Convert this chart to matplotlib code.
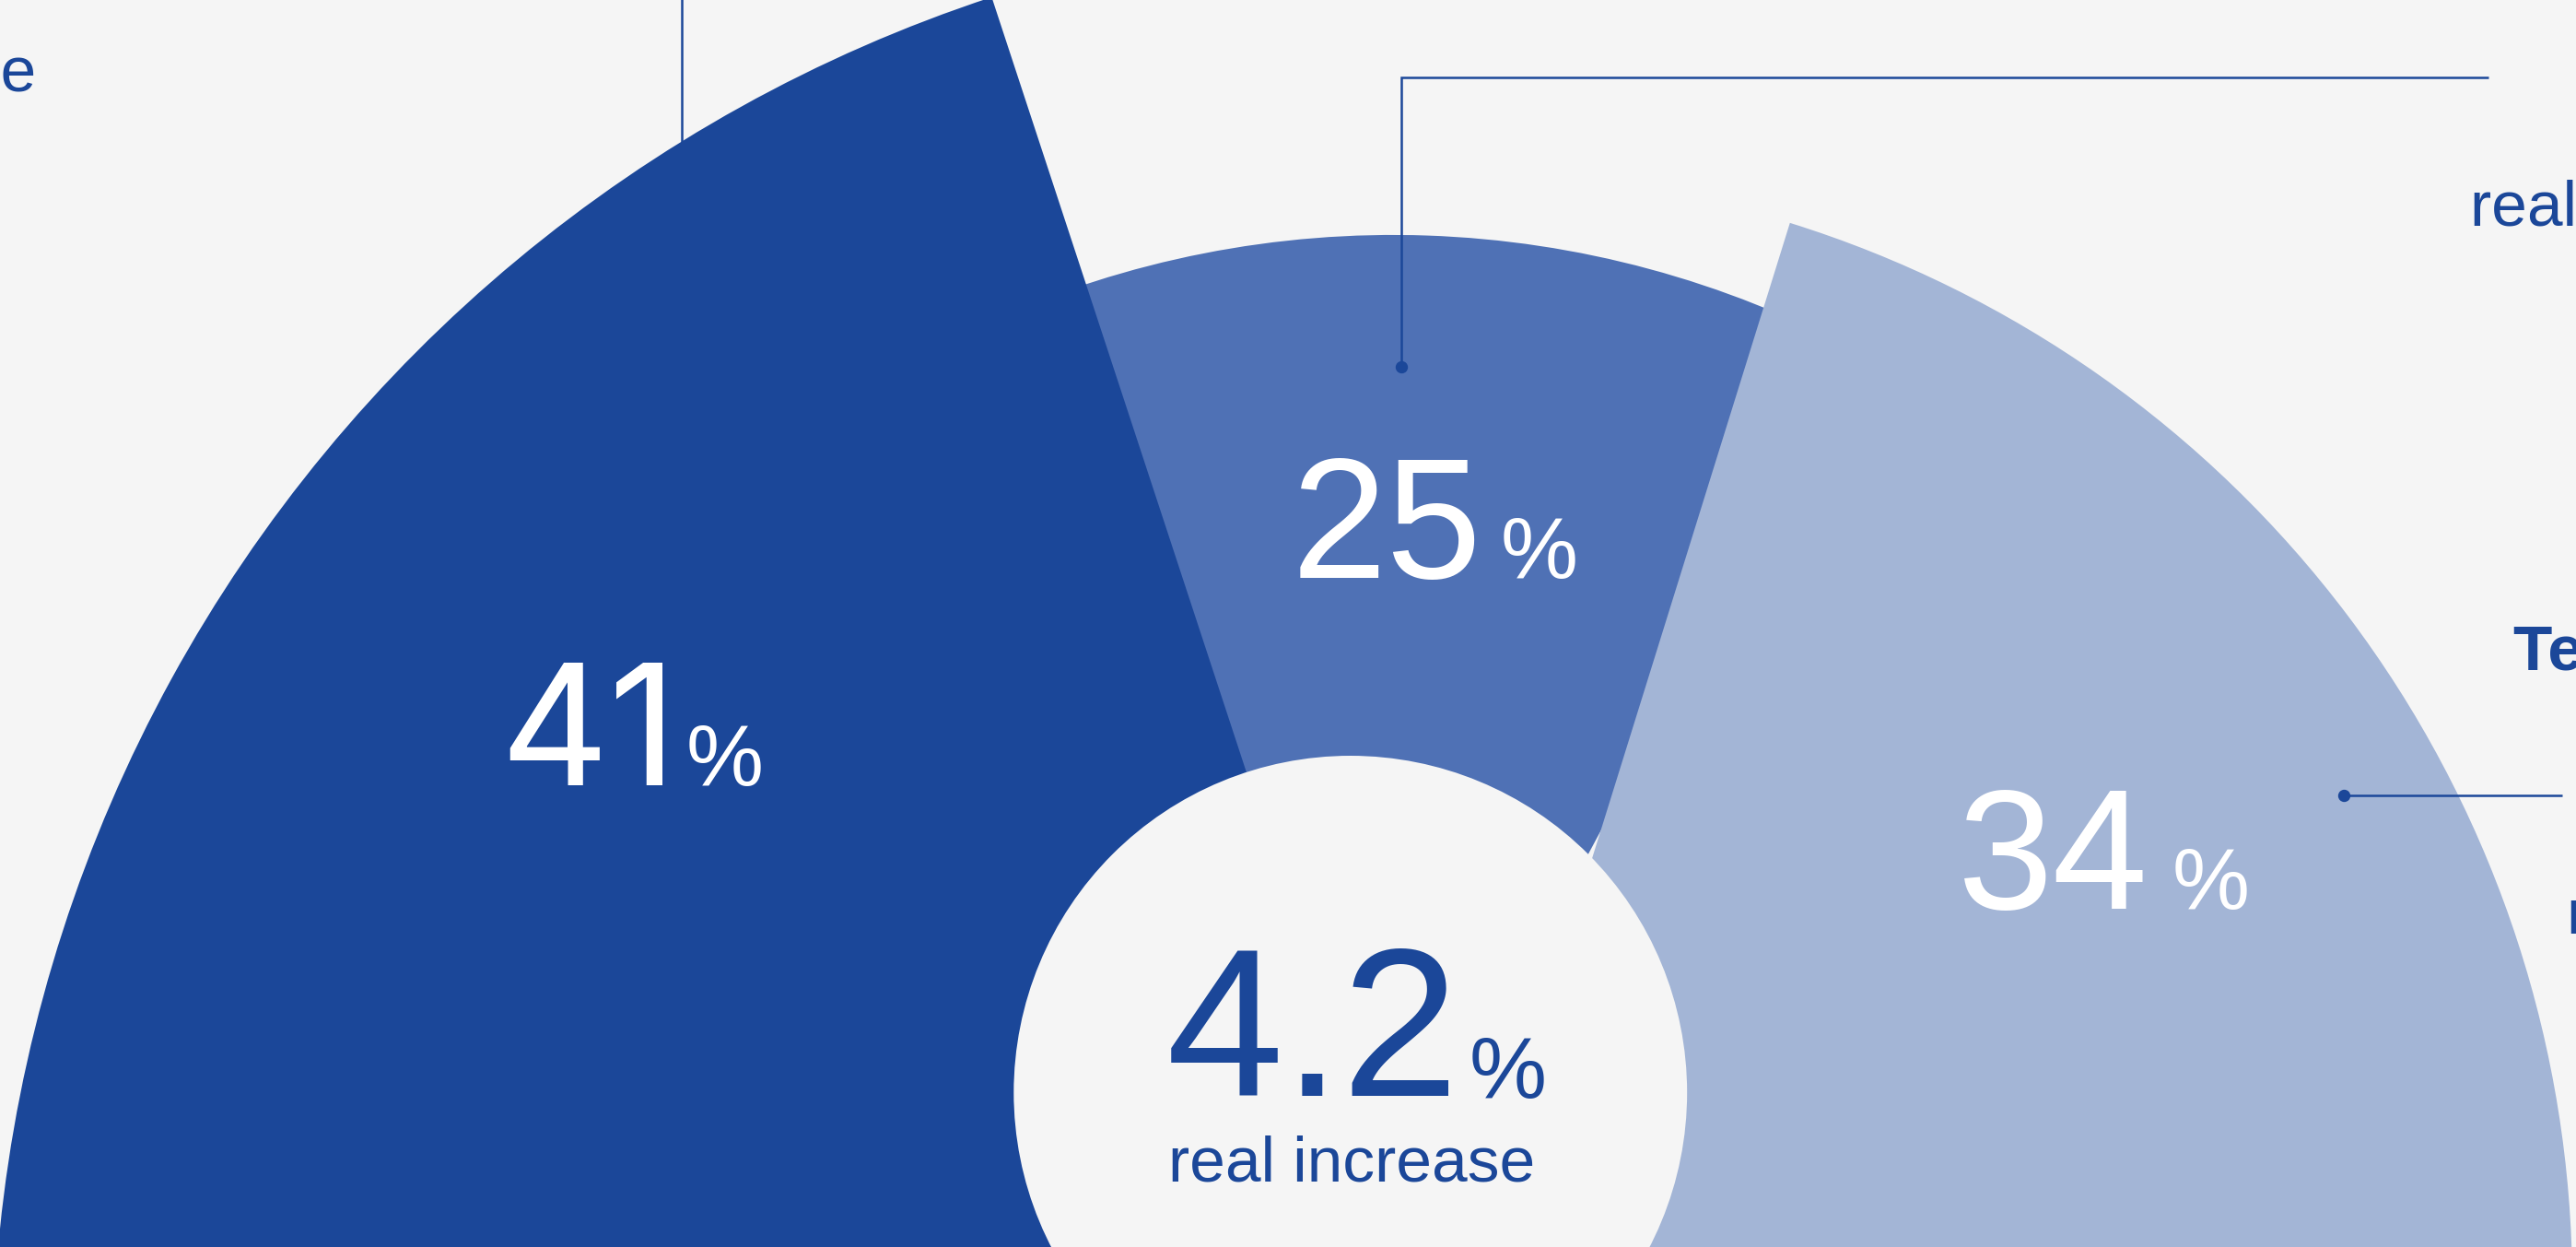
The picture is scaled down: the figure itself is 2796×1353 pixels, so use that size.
import matplotlib
matplotlib.use("Agg")
import matplotlib.pyplot as plt
from matplotlib.patches import Wedge, Circle

# ---- data ----
categories = ["Schools", "Further education", "Tertiary education"]
shares = [41, 25, 34]                 # percent of the total
share_labels = ["41", "25", "34"]
headline_value = "4.2"
headline_caption = "real increase"
side_title = "Tertiary education"

# ---- style ----
BG = "#F5F5F5"
INK = "#1B4799"
slice_colors = ["#1B4799", "#4F71B5", "#A3B5D6"]
DEG_PER_POINT = 2.1                   # angular size of one percentage point
# per-slice drawing geometry (canvas units, y up)
slice_centers = [(880, -80), (848, 18), (888, -24)]
slice_radii = [885, 598, 678]
# angle that each slice is anchored on and how the span is laid out
slice_anchor = [108.2, 88.0, 72.7]
slice_mode = ["from", "around", "to"]
slice_z = [3, 1, 2]

FONT = ["Liberation Sans", "DejaVu Sans"]
FONT_ALT = ["Inter", "Liberation Sans", "DejaVu Sans"]   # footless "1"
number_fonts = [FONT_ALT, FONT, FONT]
number_sizes = [132, 134, 134]

W, H = 1568, 759
fig = plt.figure(figsize=(27.96, 13.53), dpi=100, facecolor=BG)
ax = fig.add_axes([0, 0, 1, 1])
ax.set_xlim(0, W)
ax.set_ylim(0, H)
ax.set_aspect("equal")
ax.axis("off")
ax.set_facecolor(BG)

for share, c, ctr, r, anc, mode, z in zip(shares, slice_colors, slice_centers,
                                           slice_radii, slice_anchor, slice_mode, slice_z):
    span = share * DEG_PER_POINT
    if mode == "from":
        t1, t2 = anc, anc + span
    elif mode == "to":
        t1, t2 = anc - span, anc
    else:
        t1, t2 = anc - span / 2, anc + span / 2
    ax.add_patch(Wedge(ctr, r, t1, t2, facecolor=c, edgecolor="none", zorder=z))

# centre disc
ax.add_patch(Circle((822, 94), 205, facecolor=BG, edgecolor="none", zorder=4))

# slice values: big number plus a small percent sign
num_pos = [(358, 281), (844, 407), (1250, 206)]
pct_pos = [(441, 281), (937, 407), (1346, 206)]
for lab, fam, fs, (nx, ny), (px, py) in zip(share_labels, number_fonts, number_sizes,
                                            num_pos, pct_pos):
    ax.text(nx, ny, lab, color="white", fontsize=fs, family=fam,
            ha="center", va="baseline", zorder=6)
    ax.text(px, py, "%", color="white", fontsize=68, family=FONT,
            ha="center", va="baseline", zorder=6)

# headline in the centre
ax.text(799, 92, headline_value, color=INK, fontsize=165, family=FONT,
        ha="center", va="baseline", zorder=6)
ax.text(918, 91, "%", color=INK, fontsize=68, family=FONT,
        ha="center", va="baseline", zorder=6)
ax.text(822.5, 40, headline_caption, color=INK, fontsize=50, family=FONT,
        ha="center", va="baseline", zorder=6)

# call-out captions around the chart
ax.text(21.5, 704, headline_caption, color=INK, fontsize=50, family=FONT,
        ha="right", va="baseline", zorder=6)
ax.text(1503.5, 622, headline_caption, color=INK, fontsize=50, family=FONT,
        ha="left", va="baseline", zorder=6)
ax.text(1530, 351, side_title, color=INK, fontsize=50, family=FONT,
        fontweight="bold", ha="left", va="baseline", zorder=6)
ax.text(1562.5, 191, headline_caption, color=INK, fontsize=50, family=FONT,
        ha="left", va="baseline", zorder=6)

# leader lines
LW = 1.8
ax.plot([415, 415], [770, 560], color=INK, lw=LW, solid_capstyle="butt", zorder=5)
ax.plot([853, 853, 1515], [536, 712, 712], color=INK, lw=LW,
        solid_joinstyle="miter", solid_capstyle="butt", zorder=5)
ax.plot([853], [536], "o", color=INK, ms=8.6, zorder=5)
ax.plot([1427, 1560], [275, 275], color=INK, lw=LW, solid_capstyle="butt", zorder=5)
ax.plot([1427], [275], "o", color=INK, ms=8.6, zorder=5)

fig.savefig("out.png", dpi=100, facecolor=BG)
